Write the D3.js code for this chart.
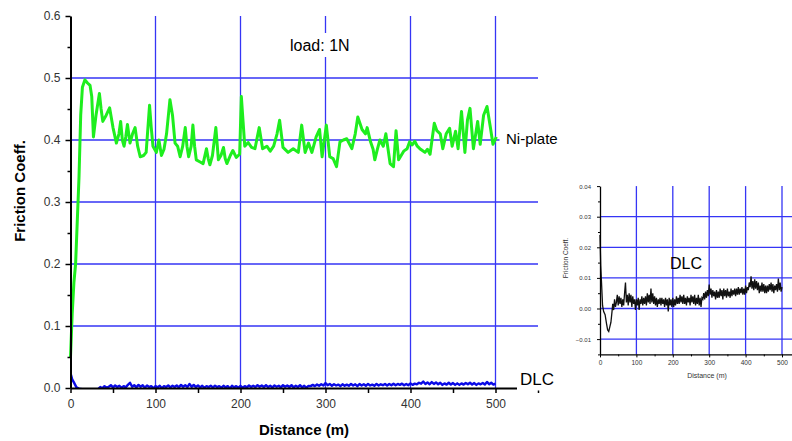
<!DOCTYPE html>
<html>
<head>
<meta charset="utf-8">
<script src="https://cdn.jsdelivr.net/npm/d3@7"></script>
<style>
  body { margin: 0; background: #fff; }
  svg { display: block; font-family: "Liberation Sans", Arial, sans-serif; }
  .grid line { stroke: #3535f5; stroke-width: 1.3; }
  .axis path, .axis line { stroke: #000; }
  .axis text { fill: #333; }
</style>
</head>
<body>
<div id="chart"></div>
<script>
// Ni-plate friction coefficient vs distance (m)
const niPlate = [
  [0,0.05],[2,0.12],[4,0.17],[6,0.2],[8,0.27],[10,0.34],[12,0.44],[14,0.485],[17,0.497],[20,0.492],
  [23,0.488],[25,0.47],[27,0.405],[30,0.44],[34,0.475],[36,0.45],[38,0.43],[42,0.44],[46,0.452],[50,0.42],
  [54,0.395],[57,0.41],[59,0.43],[61,0.4],[63,0.39],[65,0.405],[67,0.425],[70,0.395],[73,0.41],[76,0.42],
  [79,0.39],[82,0.373],[86,0.375],[89,0.38],[93,0.456],[95,0.42],[97,0.39],[101,0.38],[104,0.4],[107,0.375],
  [110,0.385],[113,0.41],[117,0.465],[120,0.44],[123,0.395],[126,0.39],[129,0.373],[132,0.39],[135,0.42],[137,0.39],
  [139,0.373],[142,0.39],[144,0.424],[146,0.39],[148,0.368],[152,0.365],[156,0.362],[160,0.386],[162,0.37],[164,0.36],
  [167,0.375],[171,0.42],[174,0.368],[177,0.375],[180,0.388],[182,0.37],[184,0.362],[188,0.375],[191,0.383],[195,0.372],
  [199,0.377],[201,0.47],[203,0.43],[205,0.39],[209,0.396],[213,0.388],[217,0.386],[222,0.42],[226,0.386],[231,0.39],
  [235,0.382],[239,0.39],[243,0.41],[246,0.432],[250,0.388],[256,0.38],[262,0.386],[268,0.38],[272,0.424],[276,0.38],
  [280,0.395],[284,0.38],[289,0.405],[293,0.417],[296,0.373],[301,0.424],[305,0.373],[309,0.37],[313,0.357],[317,0.397],
  [321,0.4],[325,0.402],[331,0.386],[335,0.41],[338,0.437],[343,0.417],[347,0.41],[349,0.42],[353,0.397],[356,0.385],
  [358,0.368],[361,0.385],[364,0.4],[368,0.39],[371,0.41],[376,0.362],[380,0.357],[383,0.415],[386,0.368],[389,0.375],
  [392,0.382],[396,0.386],[399,0.397],[402,0.392],[405,0.398],[408,0.39],[411,0.386],[414,0.383],[417,0.38],[420,0.385],
  [423,0.377],[428,0.427],[431,0.415],[435,0.41],[438,0.386],[442,0.41],[446,0.419],[449,0.39],[453,0.414],[456,0.386],
  [460,0.446],[464,0.38],[467,0.432],[470,0.451],[474,0.386],[479,0.43],[482,0.393],[486,0.44],[490,0.454],[494,0.42],
  [497,0.393],[501,0.405]
];

// DLC friction coefficient vs distance (m) (same run, drawn in both plots)
const dlc = [
  [0,0.024],[2,0.014],[4,0.009],[7,0.001],[10,-0.001],[14,-0.002],[18,-0.005],[21,-0.007],[24,-0.0075],[27,-0.006],
  [30,-0.0045],[33,-0.001],[35,0.0015],[37.5,-0.0005],[40,0.003],[42.5,0.0005],[45,0.002],[47.5,0.0045],[50,0.001],[52.5,0.004],
  [55,0.0015],[57.5,0.0035],[60,0.0005],[62.5,0.003],[65,0.001],[67.5,0.005],[70,0.0085],[72.5,0.002],[75,0.0045],[77.5,0.001],
  [80,0.005],[82.5,0.002],[85,0.0045],[87.5,0.0005],[90,0.004],[92.5,0.0015],[95,0.003],[97.5,-0.0005],[100,0.003],[102.5,0.001],
  [105,0.0035],[107.5,-0.0005],[110,0.003],[112.5,0.0015],[115,0.004],[117.5,0.001],[120,0.0035],[122.5,0.0015],[125,0.004],[127.5,0.001],
  [130,0.005],[132.5,0.002],[135,0.0045],[137.5,0.0015],[140,0.0065],[142.5,0.002],[145,0.005],[147.5,0.0015],[150,0.004],[152.5,0.001],
  [155,0.0035],[157.5,0.0005],[160,0.003],[162.5,0.0015],[165,0.0035],[167.5,0.001],[170,0.0035],[172.5,0.0015],[175,0.003],[177.5,0.0005],
  [180,0.0035],[182.5,0.001],[185,0.003],[187.5,-0.001],[190,0.0035],[192.5,0.001],[195,0.003],[197.5,0.0005],[200,0.0035],[202.5,0.0005],
  [205,0.003],[207.5,0.001],[210,0.004],[212.5,0.0015],[215,0.0035],[217.5,0.0015],[220,0.0045],[222.5,0.002],[225,0.004],[227.5,0.0015],
  [230,0.0045],[232.5,0.0015],[235,0.0035],[237.5,0.001],[240,0.004],[242.5,0.002],[245,0.0035],[247.5,0.001],[250,0.0045],[252.5,0.002],
  [255,0.004],[257.5,0.0015],[260,0.0045],[262.5,0.001],[265,0.0035],[267.5,0.0015],[270,0.0045],[272.5,0.001],[275,0.0035],[277.5,0.0005],
  [280,0.0035],[282.5,0.003],[285,0.005],[287.5,0.003],[290,0.0055],[292.5,0.0035],[295,0.006],[297.5,0.004],[300,0.0078],[302.5,0.0045],
  [305,0.0065],[307.5,0.0035],[310,0.006],[312.5,0.004],[315,0.0055],[317.5,0.003],[320,0.006],[322.5,0.0035],[325,0.0055],[327.5,0.0035],
  [330,0.0065],[332.5,0.004],[335,0.006],[337.5,0.003],[340,0.0065],[342.5,0.004],[345,0.006],[347.5,0.0035],[350,0.0065],[352.5,0.004],
  [355,0.0055],[357.5,0.0035],[360,0.0065],[362.5,0.004],[365,0.006],[367.5,0.0045],[370,0.0065],[372.5,0.004],[375,0.0065],[377.5,0.0045],
  [380,0.007],[382.5,0.0045],[385,0.0065],[387.5,0.005],[390,0.007],[392.5,0.0045],[395,0.0065],[397.5,0.0045],[400,0.0075],[402.5,0.005],
  [405,0.007],[407.5,0.006],[410,0.0085],[412.5,0.007],[415,0.0105],[417.5,0.0065],[420,0.009],[422.5,0.006],[425,0.0095],[427.5,0.0065],
  [430,0.009],[432.5,0.006],[435,0.0085],[437.5,0.005],[440,0.0075],[442.5,0.0055],[445,0.0085],[447.5,0.0055],[450,0.008],[452.5,0.005],
  [455,0.0075],[457.5,0.005],[460,0.0075],[462.5,0.0055],[465,0.008],[467.5,0.006],[470,0.0085],[472.5,0.0055],[475,0.008],[477.5,0.005],
  [480,0.0075],[482.5,0.006],[485,0.008],[487.5,0.0055],[490,0.0098],[492.5,0.006],[495,0.0085],[497.5,0.0055],[500,0.007]
];

// ticks / grid
const mainYTicks = [0, 0.1, 0.2, 0.3, 0.4, 0.5, 0.6];
const mainYMinor = [0.05, 0.15, 0.25, 0.35, 0.45, 0.55];
const mainYGrid = [0.1, 0.2, 0.3, 0.4, 0.5];
const xTicks = [0, 100, 200, 300, 400, 500];
const xMinor = [50, 150, 250, 350, 450, 550];
const xGrid = [100, 200, 300, 400, 500];
const insetYTicks = [-0.01, 0, 0.01, 0.02, 0.03, 0.04];
const insetYMinor = [-0.015, -0.005, 0.005, 0.015, 0.025, 0.035];
const insetYGrid = [-0.01, 0, 0.01, 0.02, 0.03];

const W = 792, H = 441;
const svg = d3.select('#chart').append('svg')
  .attr('width', W).attr('height', H);

/* ---------------- main plot ---------------- */
const x = d3.scaleLinear().domain([0, 550]).range([70.5, 538]);
const y = d3.scaleLinear().domain([0, 0.6]).range([388, 16]);

const grid = svg.append('g').attr('class', 'grid');
grid.selectAll('.hg').data(mainYGrid).join('line')
  .attr('x1', x(0)).attr('x2', x(550))
  .attr('y1', d => y(d)).attr('y2', d => y(d));
grid.selectAll('.vg').data(xGrid).join('line')
  .attr('x1', d => x(d)).attr('x2', d => x(d))
  .attr('y1', y(0.6)).attr('y2', y(0));

svg.append('defs').append('clipPath').attr('id', 'mainClip')
  .append('rect').attr('x', x(0)).attr('y', y(0.6) - 5)
  .attr('width', x(550) - x(0)).attr('height', y(0) - y(0.6) + 5);

const line = d3.line().x(d => x(d[0])).y(d => y(d[1]));

svg.append('path').datum(dlc)
  .attr('clip-path', 'url(#mainClip)')
  .attr('fill', 'none').attr('stroke', '#0a0ae6').attr('stroke-width', 2.4)
  .attr('stroke-linejoin', 'round')
  .attr('d', line);

svg.append('path').datum(niPlate)
  .attr('fill', 'none').attr('stroke', '#1eee1e').attr('stroke-width', 3)
  .attr('stroke-linejoin', 'round')
  .attr('d', line);

// axes
const yAxis = svg.append('g').attr('class', 'axis')
  .attr('transform', `translate(${x(0)},0)`)
  .call(d3.axisLeft(y).tickValues(mainYTicks).tickSize(5).tickSizeOuter(0)
    .tickPadding(5).tickFormat(d3.format('.1f')));
yAxis.selectAll('text').attr('font-size', 12).attr('font-family', null);
yAxis.select('.domain').attr('stroke-width', 2);
yAxis.selectAll('.tick line').attr('stroke-width', 1.5);

svg.append('g').attr('class', 'axis')
  .attr('transform', `translate(${x(0)},0)`)
  .call(d3.axisLeft(y).tickValues(mainYMinor).tickSize(3).tickFormat(''))
  .call(g => g.select('.domain').remove())
  .selectAll('line').attr('stroke-width', 1.5);

const xAxis = svg.append('g').attr('class', 'axis')
  .attr('transform', `translate(0,${y(0)})`)
  .call(d3.axisBottom(x).tickValues(xTicks).tickSize(5).tickSizeOuter(0).tickPadding(6));
xAxis.selectAll('text').attr('font-size', 12).attr('font-family', null);
xAxis.select('.domain').attr('stroke-width', 2);
xAxis.selectAll('.tick line').attr('stroke-width', 1.5);

svg.append('g').attr('class', 'axis')
  .attr('transform', `translate(0,${y(0)})`)
  .call(d3.axisBottom(x).tickValues(xMinor).tickSize(5).tickFormat(''))
  .call(g => g.select('.domain').remove())
  .selectAll('line').attr('stroke-width', 1.5);

// labels (white boxes hide the grid behind them, as in the original)
svg.append('rect').attr('x', 517).attr('y', 362).attr('width', 45).attr('height', 28.5).attr('fill', '#fff');
svg.append('text').attr('x', 520).attr('y', 385).attr('font-size', 17).text('DLC');
svg.append('rect').attr('x', 287).attr('y', 33).attr('width', 66).attr('height', 24).attr('fill', '#fff');
svg.append('text').attr('x', 290).attr('y', 51).attr('font-size', 16).text('load: 1N');
svg.append('rect').attr('x', 499.5).attr('y', 128).attr('width', 62).attr('height', 22).attr('fill', '#fff');
svg.append('text').attr('x', 506).attr('y', 144).attr('font-size', 15).text('Ni-plate');

svg.append('text').attr('x', 304).attr('y', 435).attr('text-anchor', 'middle')
  .attr('font-size', 15).attr('font-weight', 'bold').text('Distance (m)');
svg.append('text').attr('transform', 'translate(25,191) rotate(-90)')
  .attr('text-anchor', 'middle').attr('font-size', 15).attr('font-weight', 'bold')
  .text('Friction Coeff.');

/* ---------------- inset ---------------- */
const xi = d3.scaleLinear().domain([0, 550]).range([600, 800.2]);
const yi = d3.scaleLinear().domain([-0.015, 0.04]).range([354.4, 186.1]);

const gi = svg.append('g').attr('class', 'grid');
gi.selectAll('.hg').data(insetYGrid).join('line')
  .attr('x1', xi(0)).attr('x2', xi(550))
  .attr('y1', d => yi(d)).attr('y2', d => yi(d));
gi.selectAll('.vg').data(xGrid).join('line')
  .attr('x1', d => xi(d)).attr('x2', d => xi(d))
  .attr('y1', yi(0.04)).attr('y2', yi(-0.015));

svg.append('path').datum(dlc)
  .attr('fill', 'none').attr('stroke', '#111').attr('stroke-width', 1.3)
  .attr('d', d3.line().x(d => xi(d[0])).y(d => yi(d[1])));

const yiAxis = svg.append('g').attr('class', 'axis')
  .attr('transform', `translate(${xi(0)},0)`)
  .call(d3.axisLeft(yi).tickValues(insetYTicks).tickSize(3).tickSizeOuter(0)
    .tickPadding(6).tickFormat(d3.format('.2f')));
yiAxis.selectAll('text').attr('font-size', 6).attr('font-family', null);
yiAxis.select('.domain').attr('stroke-width', 1.3);

svg.append('g').attr('class', 'axis')
  .attr('transform', `translate(${xi(0)},0)`)
  .call(d3.axisLeft(yi).tickValues(insetYMinor).tickSize(2).tickFormat(''))
  .call(g => g.select('.domain').remove());

const xiAxis = svg.append('g').attr('class', 'axis')
  .attr('transform', `translate(0,${yi(-0.015)})`)
  .call(d3.axisBottom(xi).tickValues(xTicks).tickSize(3).tickSizeOuter(0).tickPadding(3));
xiAxis.selectAll('text').attr('font-size', 6.5).attr('font-family', null);
xiAxis.select('.domain').attr('stroke-width', 1.3);

svg.append('g').attr('class', 'axis')
  .attr('transform', `translate(0,${yi(-0.015)})`)
  .call(d3.axisBottom(xi).tickValues(xMinor).tickSize(2).tickFormat(''))
  .call(g => g.select('.domain').remove());

svg.append('text').attr('x', 670).attr('y', 269).attr('font-size', 16).text('DLC');
svg.append('text').attr('x', 707).attr('y', 378).attr('text-anchor', 'middle')
  .attr('font-size', 7).attr('fill', '#333').text('Distance (m)');
svg.append('text').attr('transform', 'translate(568,258) rotate(-90)')
  .attr('text-anchor', 'middle').attr('font-size', 6.5).attr('fill', '#333')
  .text('Friction Coeff.');
</script>
</body>
</html>
